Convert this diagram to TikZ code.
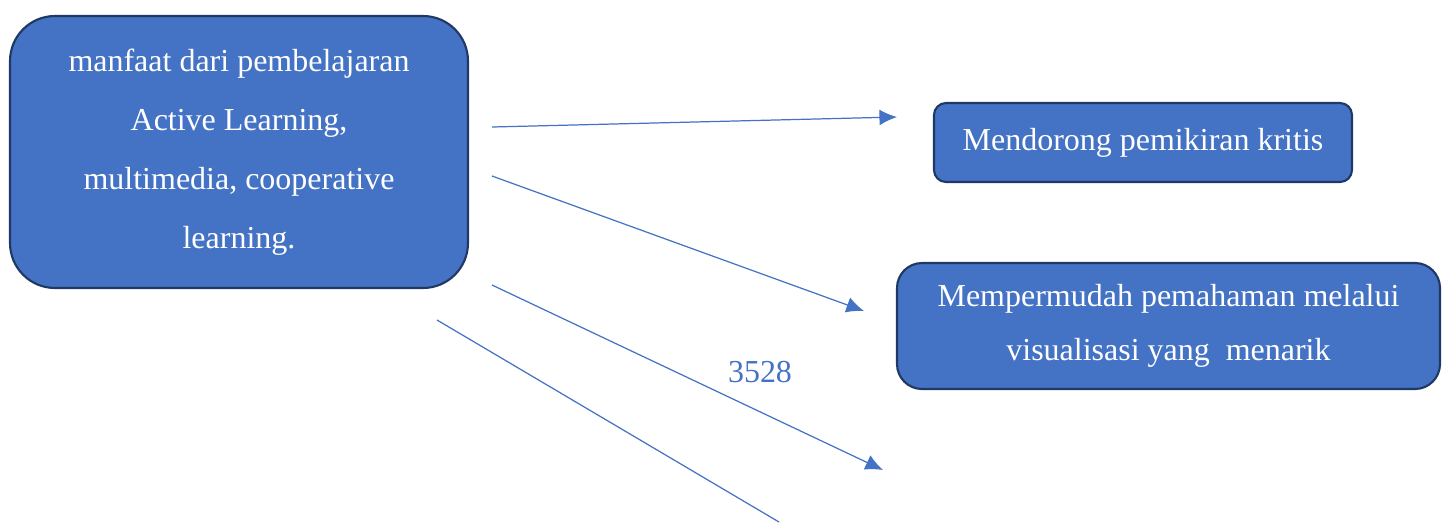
\documentclass[tikz,border=0pt]{standalone}
\usepackage{fontspec}
\setmainfont{Liberation Serif}
\usetikzlibrary{arrows.meta}
\definecolor{boxblue}{HTML}{4472C4}
\definecolor{boxline}{HTML}{1F3864}

\begin{document}
\begin{tikzpicture}[
    benefit/.style={draw=boxline,line width=1.2pt,fill=boxblue,text=white,
        align=center,inner sep=0pt},
    link/.style={boxblue,line width=0.7pt,-{Latex[length=10pt,width=9pt]}}
]
    \useasboundingbox (0,0) rectangle (28.92,-10.44);
    \node[benefit,rounded corners=0.9cm,minimum width=9.16cm,minimum height=5.44cm,
        font=\fontsize{18.2}{33.6}\selectfont] (manfaat) at (4.78,-3.04)
        {manfaat dari pembelajaran\\Active Learning,\\multimedia, cooperative\\learning.};
    \node[benefit,rounded corners=0.24cm,minimum width=8.36cm,minimum height=1.58cm,
        font=\fontsize{18.2}{23}\selectfont] (kritis) at (22.86,-2.85)
        {Mendorong pemikiran kritis};
    \node[benefit,rounded corners=0.5cm,minimum width=10.86cm,minimum height=2.52cm,
        font=\fontsize{18.2}{31}\selectfont] (visual) at (23.37,-6.52)
        {Mempermudah pemahaman melalui\\visualisasi yang\ \ menarik};
    % loose ends of the arrows
    \coordinate (kritisStart) at (9.84,-2.54);
    \coordinate (kritisEnd) at (17.94,-2.34);
    \coordinate (visualStart) at (9.84,-3.52);
    \coordinate (visualEnd) at (17.28,-6.22);
    \coordinate (thirdStart) at (9.84,-5.70);
    \coordinate (thirdEnd) at (17.66,-9.40);
    \coordinate (fourthStart) at (8.74,-6.40);
    \coordinate (fourthEnd) at (15.58,-10.44);
    \draw[link] (kritisStart) -- (kritisEnd);
    \draw[link] (visualStart) -- (visualEnd);
    \draw[link] (thirdStart) -- (thirdEnd);
    \draw[boxblue,line width=0.7pt] (fourthStart) -- (fourthEnd);
    \node[text=boxblue,font=\fontsize{18.2}{23}\selectfont] (angka) at (15.2,-7.44) {3528};
\end{tikzpicture}
\end{document}
